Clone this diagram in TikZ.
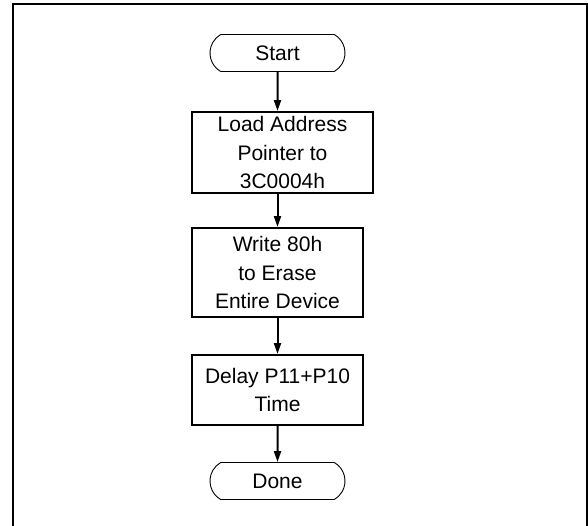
\documentclass[tikz,border=0pt]{standalone}
\usepackage{fontspec}
\setmainfont{Liberation Sans}
\usetikzlibrary{shapes.misc,arrows.meta}

\begin{document}
\begin{tikzpicture}[x=1pt,y=-1pt,font=\fontsize{21}{28.5}\selectfont,
  terminal/.style={rounded rectangle,rounded rectangle arc length=120,draw,line width=0.9pt,minimum width=135pt,minimum height=37pt,inner sep=0pt},
  process/.style={draw,line width=2pt,align=center,inner sep=0pt},
  flow/.style={line width=2pt,-{Triangle[length=11pt,width=7pt]}}]
\useasboundingbox (0,0) rectangle (588,525);
\draw[line width=2pt] (13,540) -- (13,4) -- (586.5,4) -- (586.5,540);
\node[terminal] (start) at (277.5,53) {Start};
\node[process,minimum width=181pt,minimum height=81pt] (load) at (282.5,152.5) {Load Address\\Pointer to\\3C0004h};
\node[process,minimum width=171pt,minimum height=89pt] (erase) at (277.5,272.5) {Write 80h\\to Erase\\Entire Device};
\node[process,minimum width=171pt,minimum height=70pt] (delay) at (277.5,390) {Delay P11+P10\\Time};
\node[terminal] (done) at (277.5,481) {Done};
\draw[flow] (start) -- (start.south |- load.north);
\draw[flow] (start.south |- load.south) -- (erase);
\draw[flow] (erase) -- (delay);
\draw[flow] (delay) -- (done);
\end{tikzpicture}
\end{document}
